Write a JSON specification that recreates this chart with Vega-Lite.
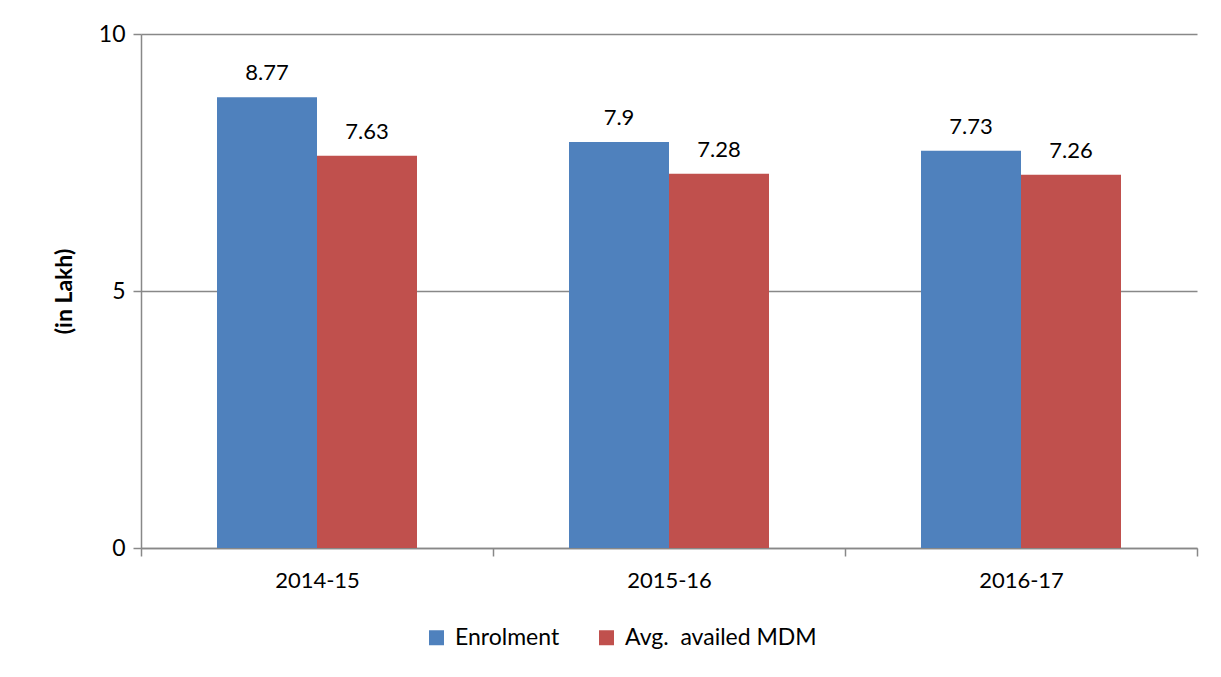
{
  "$schema": "https://vega.github.io/schema/vega-lite/v6.json",
  "autosize": "none",
  "width": 1056,
  "height": 514,
  "padding": {"left": 141, "top": 34, "right": 24, "bottom": 129},
  "background": "white",
  "config": {
    "font": "Lato",
    "view": {"stroke": null},
    "axis": {"labelFont": "Lato", "titleFont": "Lato", "labelColor": "#000", "titleColor": "#000"},
    "legend": {"labelFont": "Lato"}
  },
  "data": {
    "values": [
      {"year": "2014-15", "series": "Enrolment", "value": 8.77},
      {"year": "2014-15", "series": "Avg.\u00a0 availed MDM", "value": 7.63},
      {"year": "2015-16", "series": "Enrolment", "value": 7.9},
      {"year": "2015-16", "series": "Avg.\u00a0 availed MDM", "value": 7.28},
      {"year": "2016-17", "series": "Enrolment", "value": 7.73},
      {"year": "2016-17", "series": "Avg.\u00a0 availed MDM", "value": 7.26}
    ]
  },
  "encoding": {
    "x": {
      "field": "year", "type": "nominal", "title": null,
      "scale": {"paddingInner": 0, "paddingOuter": 0},
      "axis": {
        "labelAngle": 0, "labelFontSize": 22, "labelPadding": 14,
        "tickBand": "extent", "tickSize": 8, "tickColor": "#888", "tickWidth": 1.5,
        "domainColor": "#888", "domainWidth": 1.5, "grid": false
      }
    },
    "xOffset": {
      "field": "series", "type": "nominal",
      "sort": ["Enrolment", "Avg.\u00a0 availed MDM"],
      "scale": {"paddingInner": 0, "paddingOuter": 0.76}
    },
    "y": {
      "field": "value", "type": "quantitative", "title": "(in Lakh)",
      "scale": {"domain": [0, 10]},
      "axis": {
        "values": [0, 5, 10], "labelFontSize": 23, "labelPadding": 8,
        "tickSize": 8, "tickColor": "#888", "tickWidth": 1.5,
        "domainColor": "#888", "domainWidth": 1.5,
        "grid": true, "gridColor": "#888", "gridWidth": 1.5,
        "titleFontSize": 23, "titleFontWeight": "bold", "titlePadding": 22
      }
    }
  },
  "layer": [
    {
      "mark": {"type": "bar"},
      "encoding": {
        "color": {
          "field": "series", "type": "nominal",
          "sort": ["Enrolment", "Avg.\u00a0 availed MDM"],
          "scale": {"domain": ["Enrolment", "Avg.\u00a0 availed MDM"], "range": ["#4F81BD", "#C0504D"]},
          "legend": {
            "title": null, "orient": "none", "direction": "horizontal",
            "legendX": 284, "legendY": 592,
            "symbolType": "square", "symbolSize": 225, "symbolStrokeWidth": 0,
            "labelFontSize": 23, "labelLimit": 400, "columnPadding": 35, "labelOffset": 7
          }
        }
      }
    },
    {
      "mark": {"type": "text", "baseline": "bottom", "dy": -12, "fontSize": 22, "color": "#000"},
      "encoding": {"text": {"field": "value", "type": "quantitative"}}
    }
  ]
}
